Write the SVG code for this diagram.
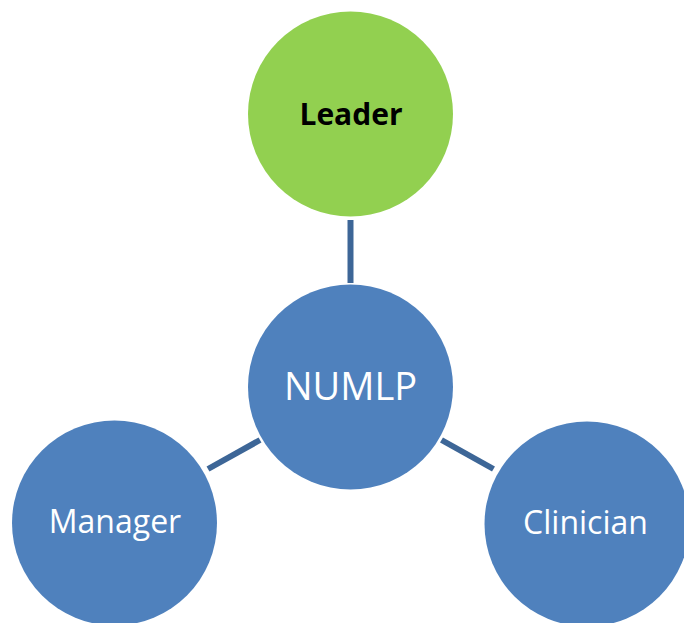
<svg xmlns="http://www.w3.org/2000/svg" width="684" height="623" viewBox="0 0 684 623">
  <style>
    .hub { fill: #4F81BD; }
    .lead { fill: #92D050; }
    .link { stroke: #3D6697; stroke-width: 6; fill: none; }
    .lbl { font-family: "Open Sans", "Liberation Sans", sans-serif; text-anchor: middle; fill: #FFFFFF; }
    .bold { font-weight: bold; fill: #000000; }
  </style>
  <rect width="684" height="623" fill="#FFFFFF"/>
  <g id="connectors">
    <line class="link" x1="350.5" y1="220" x2="350.5" y2="283"/>
    <line class="link" x1="260" y1="440" x2="208" y2="469"/>
    <line class="link" x1="441.5" y1="440" x2="493.5" y2="469"/>
  </g>
  <g id="leader">
    <circle class="lead" cx="350.5" cy="114" r="102.5"/>
    <text class="lbl bold" x="351" y="125" font-size="30">Leader</text>
  </g>
  <g id="numlp">
    <circle class="hub" cx="350.5" cy="387" r="102.5"/>
    <text class="lbl" x="350.5" y="400" font-size="38">NUMLP</text>
  </g>
  <g id="manager">
    <circle class="hub" cx="114.5" cy="523" r="102.5"/>
    <text class="lbl" x="115" y="533" font-size="32">Manager</text>
  </g>
  <g id="clinician">
    <circle class="hub" cx="587" cy="524" r="102.5"/>
    <text class="lbl" x="585.5" y="534" font-size="32">Clinician</text>
  </g>
</svg>
